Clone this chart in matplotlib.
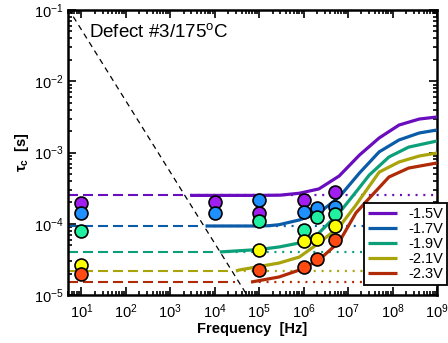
import matplotlib
matplotlib.use("Agg")
import matplotlib.pyplot as plt
import numpy as np
from matplotlib.ticker import LogLocator, NullFormatter, FixedLocator

plt.rcParams['font.family'] = ['Liberation Sans', 'DejaVu Sans']
plt.rcParams['mathtext.default'] = 'regular'

labels = ['-1.5V', '-1.7V', '-1.9V', '-2.1V', '-2.3V']
line_colors = ['#6A0DBE', '#0A5CA8', '#0BA07A', '#A8A40A', '#B02A08']
marker_colors = ['#A21EF0', '#1E90FF', '#20F0A0', '#FFFF00', '#FF4A12']

# x / y tick positions
x_ticks = [1e1, 1e2, 1e3, 1e4, 1e5, 1e6, 1e7, 1e8, 1e9]
y_ticks = [1e-5, 1e-4, 1e-3, 1e-2, 1e-1]

# low-frequency levels (dashed, and dotted continuation)
levels = [2.5e-4, 9.4e-5, 4.02e-5, 2.17e-5, 1.5e-5]
dashed_end = [2.2e3, 5.0e3, 1.12e4, 2.2e4, 2.8e4]

# model curves (solid)
curve_f = [
    [2.8e3, 1e4, 1e5, 3e5, 8e5, 2.2e6, 6.3e6, 1.8e7, 5e7, 1.4e8, 4e8, 1e9],
    [6.2e3, 1e5, 1.7e5, 2.8e5, 8e5, 2.2e6, 6.3e6, 1.8e7, 5e7, 1.4e8, 4e8, 1e9],
    [1.3e4, 1e5, 2.8e5, 8e5, 2.2e6, 6.3e6, 1.5e7, 3e7, 8.3e7, 2.3e8, 1e9],
    [3e4, 3.5e4, 2.8e5, 8e5, 2.2e6, 6.3e6, 1.5e7, 5e7, 1.4e8, 4e8, 1e9],
    [6.6e4, 2.8e5, 8e5, 2.2e6, 6.3e6, 1.5e7, 2.5e7, 8.3e7, 2.3e8, 1e9],
]
curve_tau = [
    [2.5e-4, 2.5e-4, 2.5e-4, 2.52e-4, 2.68e-4, 3.08e-4, 4.68e-4, 9.2e-4, 1.6e-3, 2.43e-3, 2.95e-3, 3.15e-3],
    [9.3e-5, 9.3e-5, 9.4e-5, 9.7e-5, 1.13e-4, 1.42e-4, 2.37e-4, 5.15e-4, 1.02e-3, 1.5e-3, 1.88e-3, 2.07e-3],
    [4.02e-5, 4.35e-5, 4.72e-5, 5.37e-5, 7.4e-5, 1.42e-4, 2.79e-4, 4.83e-4, 8.65e-4, 1.19e-3, 1.45e-3],
    [2.17e-5, 2.24e-5, 2.81e-5, 3.41e-5, 5.37e-5, 9.0e-5, 1.83e-4, 5.3e-4, 7.36e-4, 8.93e-4, 9.84e-4],
    [1.52e-5, 1.79e-5, 2.24e-5, 3.1e-5, 5.55e-5, 1.42e-4, 2.02e-4, 4.53e-4, 6.05e-4, 7.13e-4],
]

# measured points
meas_f = [
    [10, 1e4, 1e5, 1e6, 5e6],
    [10, 1e4, 1e5, 1e6, 2e6, 5e6],
    [10, 1e5, 1e6, 2e6, 5e6],
    [10, 1e5, 1e6, 2e6, 5e6],
    [10, 1e5, 1e6, 2e6, 5e6],
]
meas_tau = [
    [1.95e-4, 2.02e-4, 1.42e-4, 2.15e-4, 2.79e-4],
    [1.42e-4, 1.42e-4, 2.15e-4, 1.46e-4, 1.66e-4, 1.72e-4],
    [7.9e-5, 1.09e-4, 8.2e-5, 1.25e-4, 1.37e-4],
    [2.64e-5, 4.28e-5, 5.7e-5, 6.1e-5, 9.3e-5],
    [1.97e-5, 2.25e-5, 2.47e-5, 3.2e-5, 5.9e-5],
]

# diagonal limit line tau = k / f
diag_k = 0.53
diag_f = [5, 1e9]

fig = plt.figure(figsize=(4.48, 3.43), dpi=100)
ax = fig.add_axes([68/448, 1-295/343, (437-68)/448, (295-10)/343])

ax.plot(diag_f, [diag_k/f for f in diag_f], color='black', lw=0.9,
        ls=(0, (4.5, 3.5)), zorder=2)

handles = []
for i in range(5):
    ax.plot([5, dashed_end[i]], [levels[i], levels[i]], color=line_colors[i],
            lw=1.5, ls=(0, (4.8, 2.4)), zorder=2)
    ax.plot([curve_f[i][0], 1e9], [levels[i], levels[i]], color=line_colors[i],
            lw=1.6, ls=(0, (0.9, 2.6)), zorder=2)
    h, = ax.plot(curve_f[i], curve_tau[i], color=line_colors[i], lw=2.3,
                 solid_capstyle='butt', zorder=3, label=labels[i])
    handles.append(h)

for i in range(5):
    ax.plot(meas_f[i], meas_tau[i], ls='none', marker='o', ms=9.3,
            mfc=marker_colors[i], mec='black', mew=1.2, zorder=5 + i)

ax.set_xscale('log')
ax.set_yscale('log')
ax.set_xlim(5, 1e9)
ax.set_ylim(1e-5, 1e-1)

ax.xaxis.set_major_locator(FixedLocator(x_ticks))
ax.yaxis.set_major_locator(FixedLocator(y_ticks))
ax.xaxis.set_minor_locator(LogLocator(base=10, subs=np.arange(2, 10), numticks=20))
ax.xaxis.set_minor_formatter(NullFormatter())
ax.yaxis.set_minor_locator(LogLocator(base=10, subs=np.arange(2, 10), numticks=20))
ax.yaxis.set_minor_formatter(NullFormatter())

ax.tick_params(which='both', direction='in', top=True, right=True,
               labelsize=10.5, width=1.2)
ax.tick_params(which='major', length=6, pad=3)
ax.tick_params(which='minor', length=3)
ax.tick_params(axis='x', which='major', pad=5)
for s in ax.spines.values():
    s.set_linewidth(1.8)

ax.set_xlabel('Frequency  [Hz]', fontsize=10.5, fontweight='bold', labelpad=1)
ax.set_ylabel(r'$\tau_c$  [s]', fontsize=10.5, fontweight='bold', labelpad=2)

ax.text(0.058, 0.923, 'Defect #3/175$^{o}$C', fontsize=13.5,
        transform=ax.transAxes, va='center', ha='left')

leg = ax.legend(handles=handles, loc='lower right', bbox_to_anchor=(1.027, 0.035),
                fontsize=10.5, frameon=True, fancybox=False, framealpha=1,
                edgecolor='black', handlelength=2.0, handletextpad=0.8,
                labelspacing=0.08, borderpad=0.25, borderaxespad=0.0)
leg.get_frame().set_linewidth(1.3)
leg.set_zorder(20)
leg.set_clip_on(False)

fig.savefig('out.png', dpi=100)
